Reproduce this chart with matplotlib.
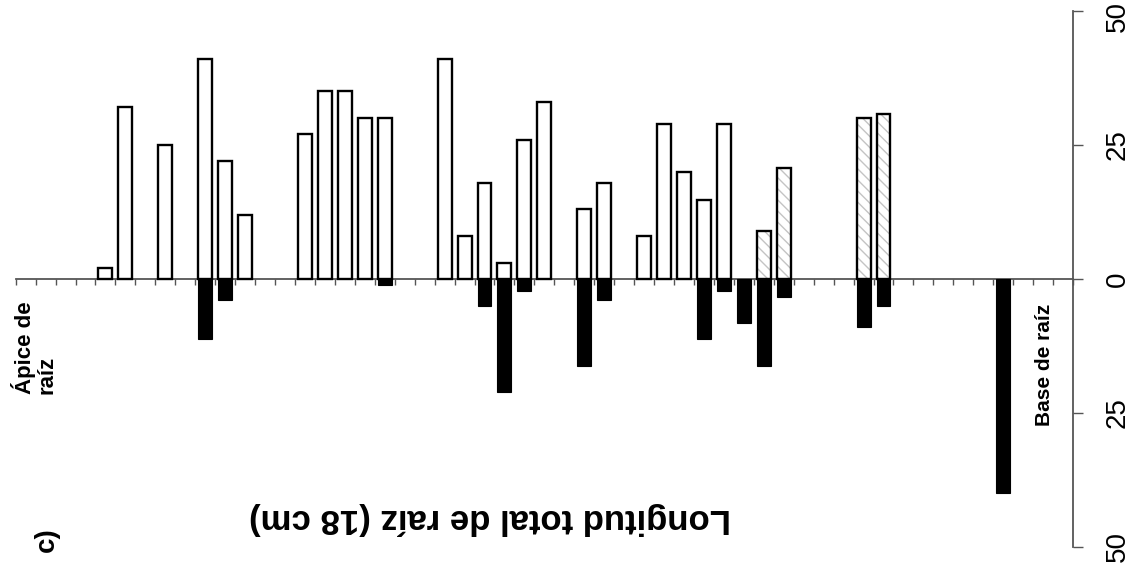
import matplotlib
matplotlib.use("Agg")
import matplotlib.pyplot as plt
import matplotlib.transforms as mtransforms
import numpy as np

# ---- data ----
slots_total = 53
positions = [4, 5, 7, 9, 10, 11, 14, 15, 16, 17, 18, 21, 22, 23, 24, 25, 26,
             28, 29, 31, 32, 33, 34, 35, 36, 37, 38, 42, 43, 49]
upper_vals = [2, 32, 25, 41, 22, 12, 27, 35, 35, 30, 30, 41, 8, 18, 3, 26, 33,
              13, 18, 8, 29, 20, 14.7, 29, 0, 9, 20.8, 30, 30.8, 0]
lower_vals = [0, 0, 0, 11.2, 4, 0, 0, 0, 0, 0, 1.2, 0, 0, 5, 21, 2.2, 0,
              16.2, 4, 0, 0, 0, 11.2, 2.2, 8.3, 16.2, 3.3, 9, 5, 40]
hatched = [False] * 25 + [True, True, True, True, False]
ytick_vals = [50, 25, 0, -25, -50]
ytick_labels = ["50", "25", "0", "25", "50"]

plt.rcParams['font.family'] = ['Liberation Sans', 'DejaVu Sans']
plt.rcParams['hatch.linewidth'] = 1.0

W, H = 1131, 579
fig = plt.figure(figsize=(W / 100, H / 100), dpi=100)
ax = fig.add_axes([15.7 / W, (H - 547) / H, (1073 - 15.7) / W, 536 / H])

x = np.array(positions) + 0.5
up = np.array(upper_vals)
lo = np.array(lower_vals)
hat = np.array(hatched)
bw = 0.70

plain = ~hat & (up > 0)
ax.bar(x[plain], up[plain], width=bw, facecolor='white', edgecolor='black',
       linewidth=1.7, zorder=3)
# hatched bars: hatch pass, then outline
ax.bar(x[hat], up[hat], width=bw, facecolor='white', edgecolor='#c4c4c4',
       linewidth=0, hatch='\\\\\\', zorder=3)
ax.bar(x[hat], up[hat], width=bw, facecolor='none', edgecolor='black',
       linewidth=1.7, zorder=4)
neg = lo > 0
ax.bar(x[neg], -lo[neg], width=bw, facecolor='black', edgecolor='black',
       linewidth=0.8, zorder=3)

ax.set_xlim(0, slots_total)
ax.set_ylim(-50, 50)

for s in ['top', 'left']:
    ax.spines[s].set_visible(False)
ax.spines['bottom'].set_position(('data', 0))
ax.spines['bottom'].set_color('#555555')
ax.spines['bottom'].set_linewidth(1.3)
ax.spines['right'].set_color('#555555')
ax.spines['right'].set_linewidth(1.3)

ax.set_xticks(np.arange(0, slots_total + 1))
ax.set_xticklabels([])
ax.tick_params(axis='x', direction='out', length=4, width=1.0, color='#555555')

ax.yaxis.tick_right()
ax.set_yticks(ytick_vals)
ax.set_yticklabels(ytick_labels, rotation=90, va='center', ha='left',
                   fontsize=20)
ax.tick_params(axis='y', direction='out', length=7, width=1.0, color='#555555',
               pad=16)
# nudge the top label slightly down so it stays inside the canvas
top_lab = ax.get_yticklabels()[0]
top_lab.set_transform(top_lab.get_transform() +
                      mtransforms.ScaledTranslation(0, -0.05, fig.dpi_scale_trans))

fig.text(34 / W, (H - 394) / H, "Ápice de\nraíz", rotation=90, ha='center',
         va='bottom', multialignment='left', fontsize=16, fontweight='bold',
         linespacing=1.0)
fig.text(1045 / W, (H - 365) / H, "Base de raíz", rotation=90, ha='center',
         va='center', fontsize=15, fontweight='bold')
fig.text(47 / W, (H - 540) / H, "c)", rotation=90, ha='center', va='center',
         fontsize=20, fontweight='bold')
fig.text(490 / W, (H - 519) / H, "Longitud total de raíz (18 cm)", rotation=180,
         ha='center', va='center', fontsize=25, fontweight='bold')

fig.savefig("out.png", dpi=100)
